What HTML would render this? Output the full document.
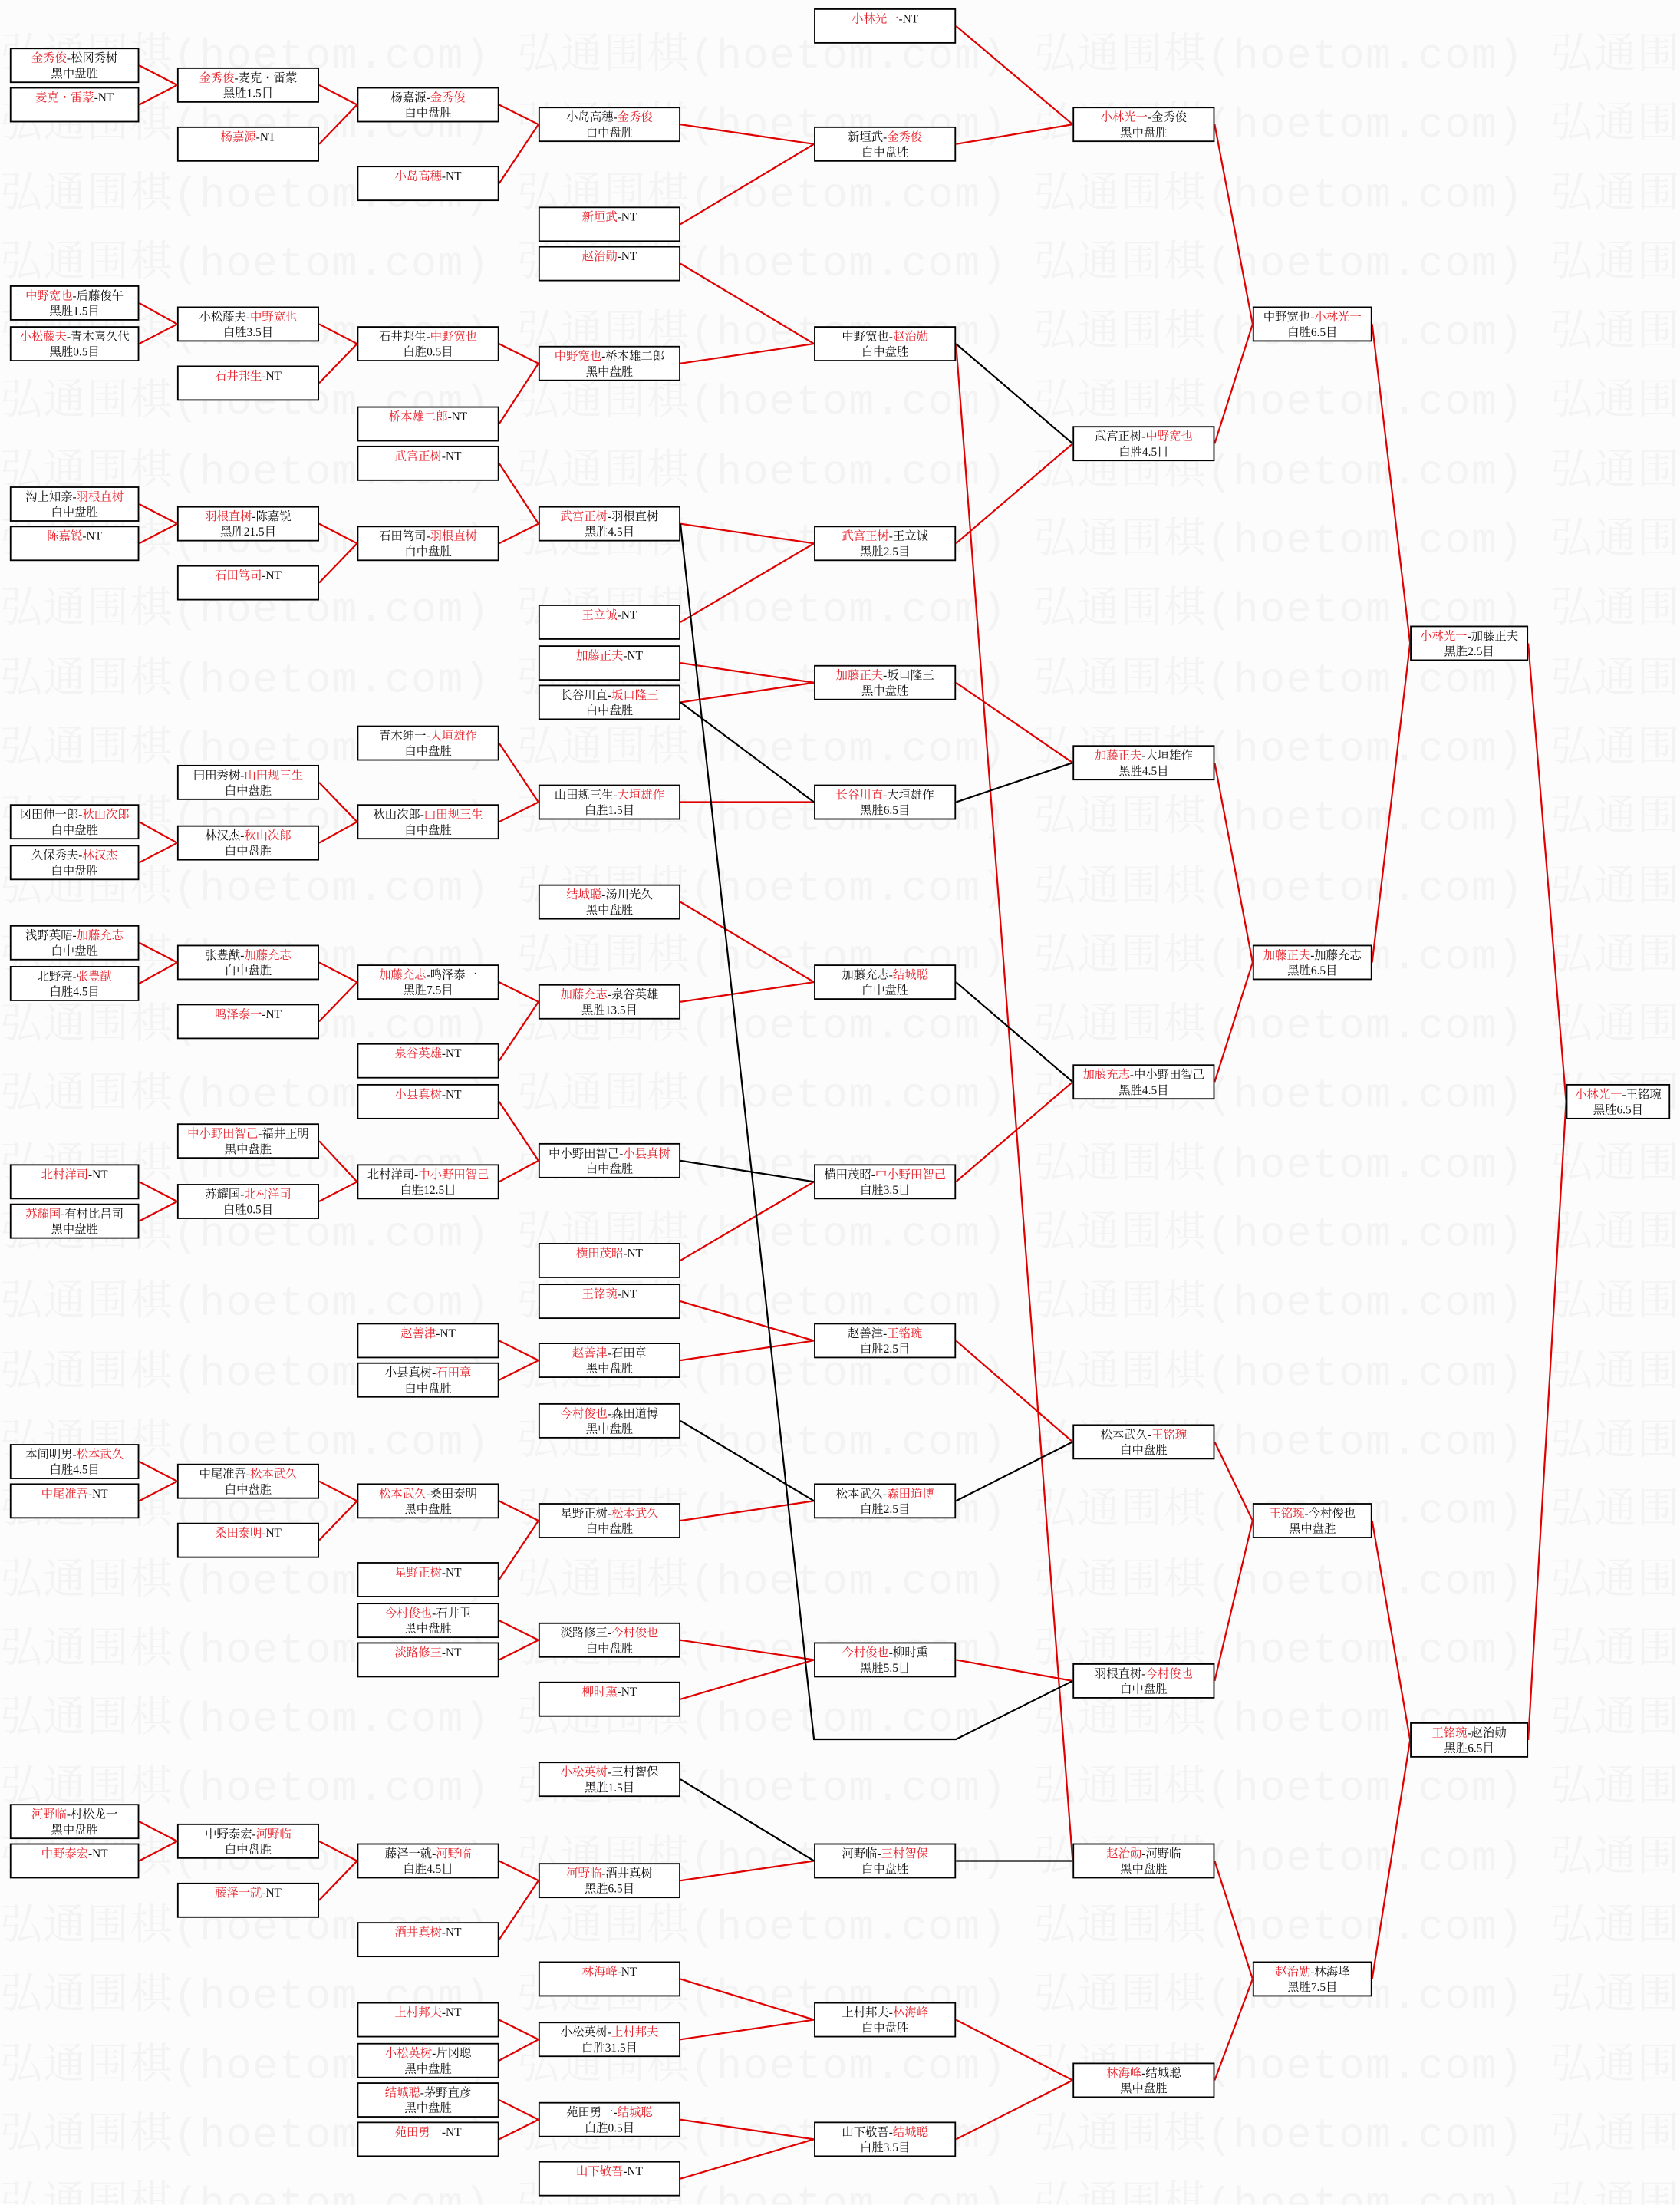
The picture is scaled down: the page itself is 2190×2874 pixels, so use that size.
<!DOCTYPE html>
<html><head><meta charset="utf-8"><style>
html,body{margin:0;padding:0;background:#fff;}
body{width:2190px;height:2873px;overflow:hidden;position:relative;}
#w{position:absolute;left:0;top:0;width:1195px;height:1568px;transform:scale(1.83264);transform-origin:0 0;overflow:hidden;background:#fcfcfc;}
#wm{position:absolute;left:0;top:17px;width:1195px;overflow:hidden;white-space:pre;font-family:"Liberation Mono","Noto Serif CJK SC",monospace;font-size:30px;letter-spacing:0.8px;line-height:49.3px;color:#f3f3f3;}
svg{position:absolute;left:0;top:0;}
.b{position:absolute;box-sizing:border-box;height:25px;border:1.5px solid #000;background:#fff;text-align:center;font-family:"Liberation Serif","Noto Serif CJK SC",serif;font-size:8.4px;line-height:11px;padding-top:1px;white-space:nowrap;color:#111;}
.b i{font-style:normal;color:#e8202a;}
.c1{left:7px;width:92px}.c2{left:126px;width:101px}.c3{left:254px;width:101px}.c4{left:383px;width:101px}
.c5{left:579px;width:101px}.c6{left:763px;width:101px}.c7{left:891px;width:85px}.c8{left:1003px;width:84px}.c9{left:1114px;width:74px}
</style></head><body><div id="w">
<div id="wm">弘通围棋(hoetom.com) 弘通围棋(hoetom.com) 弘通围棋(hoetom.com) 弘通围棋(hoetom.com)
弘通围棋(hoetom.com) 弘通围棋(hoetom.com) 弘通围棋(hoetom.com) 弘通围棋(hoetom.com)
弘通围棋(hoetom.com) 弘通围棋(hoetom.com) 弘通围棋(hoetom.com) 弘通围棋(hoetom.com)
弘通围棋(hoetom.com) 弘通围棋(hoetom.com) 弘通围棋(hoetom.com) 弘通围棋(hoetom.com)
弘通围棋(hoetom.com) 弘通围棋(hoetom.com) 弘通围棋(hoetom.com) 弘通围棋(hoetom.com)
弘通围棋(hoetom.com) 弘通围棋(hoetom.com) 弘通围棋(hoetom.com) 弘通围棋(hoetom.com)
弘通围棋(hoetom.com) 弘通围棋(hoetom.com) 弘通围棋(hoetom.com) 弘通围棋(hoetom.com)
弘通围棋(hoetom.com) 弘通围棋(hoetom.com) 弘通围棋(hoetom.com) 弘通围棋(hoetom.com)
弘通围棋(hoetom.com) 弘通围棋(hoetom.com) 弘通围棋(hoetom.com) 弘通围棋(hoetom.com)
弘通围棋(hoetom.com) 弘通围棋(hoetom.com) 弘通围棋(hoetom.com) 弘通围棋(hoetom.com)
弘通围棋(hoetom.com) 弘通围棋(hoetom.com) 弘通围棋(hoetom.com) 弘通围棋(hoetom.com)
弘通围棋(hoetom.com) 弘通围棋(hoetom.com) 弘通围棋(hoetom.com) 弘通围棋(hoetom.com)
弘通围棋(hoetom.com) 弘通围棋(hoetom.com) 弘通围棋(hoetom.com) 弘通围棋(hoetom.com)
弘通围棋(hoetom.com) 弘通围棋(hoetom.com) 弘通围棋(hoetom.com) 弘通围棋(hoetom.com)
弘通围棋(hoetom.com) 弘通围棋(hoetom.com) 弘通围棋(hoetom.com) 弘通围棋(hoetom.com)
弘通围棋(hoetom.com) 弘通围棋(hoetom.com) 弘通围棋(hoetom.com) 弘通围棋(hoetom.com)
弘通围棋(hoetom.com) 弘通围棋(hoetom.com) 弘通围棋(hoetom.com) 弘通围棋(hoetom.com)
弘通围棋(hoetom.com) 弘通围棋(hoetom.com) 弘通围棋(hoetom.com) 弘通围棋(hoetom.com)
弘通围棋(hoetom.com) 弘通围棋(hoetom.com) 弘通围棋(hoetom.com) 弘通围棋(hoetom.com)
弘通围棋(hoetom.com) 弘通围棋(hoetom.com) 弘通围棋(hoetom.com) 弘通围棋(hoetom.com)
弘通围棋(hoetom.com) 弘通围棋(hoetom.com) 弘通围棋(hoetom.com) 弘通围棋(hoetom.com)
弘通围棋(hoetom.com) 弘通围棋(hoetom.com) 弘通围棋(hoetom.com) 弘通围棋(hoetom.com)
弘通围棋(hoetom.com) 弘通围棋(hoetom.com) 弘通围棋(hoetom.com) 弘通围棋(hoetom.com)
弘通围棋(hoetom.com) 弘通围棋(hoetom.com) 弘通围棋(hoetom.com) 弘通围棋(hoetom.com)
弘通围棋(hoetom.com) 弘通围棋(hoetom.com) 弘通围棋(hoetom.com) 弘通围棋(hoetom.com)
弘通围棋(hoetom.com) 弘通围棋(hoetom.com) 弘通围棋(hoetom.com) 弘通围棋(hoetom.com)
弘通围棋(hoetom.com) 弘通围棋(hoetom.com) 弘通围棋(hoetom.com) 弘通围棋(hoetom.com)
弘通围棋(hoetom.com) 弘通围棋(hoetom.com) 弘通围棋(hoetom.com) 弘通围棋(hoetom.com)
弘通围棋(hoetom.com) 弘通围棋(hoetom.com) 弘通围棋(hoetom.com) 弘通围棋(hoetom.com)
弘通围棋(hoetom.com) 弘通围棋(hoetom.com) 弘通围棋(hoetom.com) 弘通围棋(hoetom.com)
弘通围棋(hoetom.com) 弘通围棋(hoetom.com) 弘通围棋(hoetom.com) 弘通围棋(hoetom.com)
弘通围棋(hoetom.com) 弘通围棋(hoetom.com) 弘通围棋(hoetom.com) 弘通围棋(hoetom.com)</div>
<svg width="1195" height="1568" viewBox="0 0 1195 1568" fill="none" stroke-width="1.2">
<g stroke="#e00000">
<path d="M99 46.5L126 60.5M99 74.5L126 60.5M99 215.5L126 230.5M99 244.5L126 230.5M99 358.5L126 372.5M99 386.5L126 372.5M99 584.5L126 599.5M99 613.5L126 599.5M99 670.5L126 684.5M99 699.5L126 684.5M99 840.5L126 854.5M99 868.5L126 854.5M99 1039.5L126 1053.5M99 1067.5L126 1053.5M99 1295.5L126 1309.5M99 1323.5L126 1309.5"/>
<path d="M227 60.5L254 74.5M227 102.5L254 74.5M227 230.5L254 244.5M227 272.5L254 244.5M227 372.5L254 386.5M227 414.5L254 386.5M227 556.5L254 584.5M227 599.5L254 584.5M227 684.5L254 698.5M227 726.5L254 698.5M227 811.5L254 840.5M227 854.5L254 840.5M227 1053.5L254 1067.5M227 1095.5L254 1067.5M227 1309.5L254 1323.5M227 1351.5L254 1323.5"/>
<path d="M355 74.5L383 88.5M355 130.5L383 88.5M355 244.5L383 258.5M355 301.5L383 258.5M355 329.5L383 372.5M355 386.5L383 372.5M355 528.5L383 570.5M355 584.5L383 570.5M355 698.5L383 712.5M355 754.5L383 712.5M355 783.5L383 825.5M355 840.5L383 825.5M355 953.5L383 967.5M355 981.5L383 967.5M355 1067.5L383 1081.5M355 1123.5L383 1081.5M355 1152.5L383 1166.5M355 1180.5L383 1166.5M355 1323.5L383 1337.5M355 1379.5L383 1337.5M355 1436.5L383 1450.5M355 1465.5L383 1450.5M355 1493.5L383 1507.5M355 1521.5L383 1507.5"/>
<path d="M484 88.5L579 102.5M484 159.5L579 102.5M484 187.5L579 244.5M484 258.5L579 244.5M484 372.5L579 386.5M484 442.5L579 386.5M484 471.5L579 485.5M484 499.5L579 485.5M484 570.5L579 570.5M484 641.5L579 698.5M484 712.5L579 698.5M484 896.5L579 840.5M484 925.5L579 953.5M484 967.5L579 953.5M484 1081.5L579 1067.5M484 1166.5L579 1180.5M484 1208.5L579 1180.5M484 1337.5L579 1323.5M484 1407.5L579 1436.5M484 1450.5L579 1436.5M484 1507.5L579 1521.5M484 1549.5L579 1521.5"/>
<path d="M680 18.5L763 88.5M680 102.5L763 88.5M680 386.5L763 315.5M680 485.5L763 542.5M680 840.5L763 769.5M680 953.5L763 1025.5M680 1180.5L763 1195.5M680 244.5L763 1323.5M680 1436.5L763 1479.5M680 1521.5L763 1479.5"/>
<path d="M864 88.5L891 230.5M864 315.5L891 230.5M864 542.5L891 684.5M864 769.5L891 684.5M864 1025.5L891 1081.5M864 1195.5L891 1081.5M864 1323.5L891 1407.5M864 1479.5L891 1407.5M976 230.5L1003 457.5M976 684.5L1003 457.5M976 1081.5L1003 1237.5M976 1407.5L1003 1237.5M1087 457.5L1114 783.5M1087 1237.5L1114 783.5"/>
</g>
<g stroke="#000">
<path d="M484 499.5L579 570.5M484 825.5L579 840.5M484 1010.5L579 1067.5M484 1265.5L579 1323.5M484 372.5L579 1237L680 1237L763 1195.5M680 244.5L763 315.5M680 570.5L763 542.5M680 698.5L763 769.5M680 1067.5L763 1025.5M680 1323.5L763 1323.5"/>
</g>
</svg>
<div class="b c1" style="top:34px"><i>金秀俊</i>-松冈秀树<br>黑中盘胜</div>
<div class="b c1" style="top:62px"><i>麦克・雷蒙</i>-NT</div>
<div class="b c1" style="top:203px"><i>中野宽也</i>-后藤俊午<br>黑胜1.5目</div>
<div class="b c1" style="top:232px"><i>小松藤夫</i>-青木喜久代<br>黑胜0.5目</div>
<div class="b c1" style="top:346px">沟上知亲-<i>羽根直树</i><br>白中盘胜</div>
<div class="b c1" style="top:374px"><i>陈嘉锐</i>-NT</div>
<div class="b c1" style="top:572px">冈田伸一郎-<i>秋山次郎</i><br>白中盘胜</div>
<div class="b c1" style="top:601px">久保秀夫-<i>林汉杰</i><br>白中盘胜</div>
<div class="b c1" style="top:658px">浅野英昭-<i>加藤充志</i><br>白中盘胜</div>
<div class="b c1" style="top:687px">北野亮-<i>张豊猷</i><br>白胜4.5目</div>
<div class="b c1" style="top:828px"><i>北村洋司</i>-NT</div>
<div class="b c1" style="top:856px"><i>苏耀国</i>-有村比吕司<br>黑中盘胜</div>
<div class="b c1" style="top:1027px">本间明男-<i>松本武久</i><br>白胜4.5目</div>
<div class="b c1" style="top:1055px"><i>中尾准吾</i>-NT</div>
<div class="b c1" style="top:1283px"><i>河野临</i>-村松龙一<br>黑中盘胜</div>
<div class="b c1" style="top:1311px"><i>中野泰宏</i>-NT</div>
<div class="b c2" style="top:48px"><i>金秀俊</i>-麦克・雷蒙<br>黑胜1.5目</div>
<div class="b c2" style="top:90px"><i>杨嘉源</i>-NT</div>
<div class="b c2" style="top:218px">小松藤夫-<i>中野宽也</i><br>白胜3.5目</div>
<div class="b c2" style="top:260px"><i>石井邦生</i>-NT</div>
<div class="b c2" style="top:360px"><i>羽根直树</i>-陈嘉锐<br>黑胜21.5目</div>
<div class="b c2" style="top:402px"><i>石田笃司</i>-NT</div>
<div class="b c2" style="top:544px">円田秀树-<i>山田规三生</i><br>白中盘胜</div>
<div class="b c2" style="top:587px">林汉杰-<i>秋山次郎</i><br>白中盘胜</div>
<div class="b c2" style="top:672px">张豊猷-<i>加藤充志</i><br>白中盘胜</div>
<div class="b c2" style="top:714px"><i>鸣泽泰一</i>-NT</div>
<div class="b c2" style="top:799px"><i>中小野田智己</i>-福井正明<br>黑中盘胜</div>
<div class="b c2" style="top:842px">苏耀国-<i>北村洋司</i><br>白胜0.5目</div>
<div class="b c2" style="top:1041px">中尾准吾-<i>松本武久</i><br>白中盘胜</div>
<div class="b c2" style="top:1083px"><i>桑田泰明</i>-NT</div>
<div class="b c2" style="top:1297px">中野泰宏-<i>河野临</i><br>白中盘胜</div>
<div class="b c2" style="top:1339px"><i>藤泽一就</i>-NT</div>
<div class="b c3" style="top:62px">杨嘉源-<i>金秀俊</i><br>白中盘胜</div>
<div class="b c3" style="top:118px"><i>小岛高穗</i>-NT</div>
<div class="b c3" style="top:232px">石井邦生-<i>中野宽也</i><br>白胜0.5目</div>
<div class="b c3" style="top:289px"><i>桥本雄二郎</i>-NT</div>
<div class="b c3" style="top:317px"><i>武宫正树</i>-NT</div>
<div class="b c3" style="top:374px">石田笃司-<i>羽根直树</i><br>白中盘胜</div>
<div class="b c3" style="top:516px">青木绅一-<i>大垣雄作</i><br>白中盘胜</div>
<div class="b c3" style="top:572px">秋山次郎-<i>山田规三生</i><br>白中盘胜</div>
<div class="b c3" style="top:686px"><i>加藤充志</i>-鸣泽泰一<br>黑胜7.5目</div>
<div class="b c3" style="top:742px"><i>泉谷英雄</i>-NT</div>
<div class="b c3" style="top:771px"><i>小县真树</i>-NT</div>
<div class="b c3" style="top:828px">北村洋司-<i>中小野田智己</i><br>白胜12.5目</div>
<div class="b c3" style="top:941px"><i>赵善津</i>-NT</div>
<div class="b c3" style="top:969px">小县真树-<i>石田章</i><br>白中盘胜</div>
<div class="b c3" style="top:1055px"><i>松本武久</i>-桑田泰明<br>黑中盘胜</div>
<div class="b c3" style="top:1111px"><i>星野正树</i>-NT</div>
<div class="b c3" style="top:1140px"><i>今村俊也</i>-石井卫<br>黑中盘胜</div>
<div class="b c3" style="top:1168px"><i>淡路修三</i>-NT</div>
<div class="b c3" style="top:1311px">藤泽一就-<i>河野临</i><br>白胜4.5目</div>
<div class="b c3" style="top:1367px"><i>酒井真树</i>-NT</div>
<div class="b c3" style="top:1424px"><i>上村邦夫</i>-NT</div>
<div class="b c3" style="top:1453px"><i>小松英树</i>-片冈聪<br>黑中盘胜</div>
<div class="b c3" style="top:1481px"><i>结城聪</i>-茅野直彦<br>黑中盘胜</div>
<div class="b c3" style="top:1509px"><i>苑田勇一</i>-NT</div>
<div class="b c4" style="top:76px">小岛高穗-<i>金秀俊</i><br>白中盘胜</div>
<div class="b c4" style="top:147px"><i>新垣武</i>-NT</div>
<div class="b c4" style="top:175px;border-width:1.8px"><i>赵治勋</i>-NT</div>
<div class="b c4" style="top:246px;border-width:1.8px"><i>中野宽也</i>-桥本雄二郎<br>黑中盘胜</div>
<div class="b c4" style="top:360px;border-width:1.8px"><i>武宫正树</i>-羽根直树<br>黑胜4.5目</div>
<div class="b c4" style="top:430px"><i>王立诚</i>-NT</div>
<div class="b c4" style="top:459px"><i>加藤正夫</i>-NT</div>
<div class="b c4" style="top:487px;border-width:1.8px">长谷川直-<i>坂口隆三</i><br>白中盘胜</div>
<div class="b c4" style="top:558px">山田规三生-<i>大垣雄作</i><br>白胜1.5目</div>
<div class="b c4" style="top:629px"><i>结城聪</i>-汤川光久<br>黑中盘胜</div>
<div class="b c4" style="top:700px"><i>加藤充志</i>-泉谷英雄<br>黑胜13.5目</div>
<div class="b c4" style="top:813px">中小野田智己-<i>小县真树</i><br>白中盘胜</div>
<div class="b c4" style="top:884px"><i>横田茂昭</i>-NT</div>
<div class="b c4" style="top:913px"><i>王铭琬</i>-NT</div>
<div class="b c4" style="top:955px"><i>赵善津</i>-石田章<br>黑中盘胜</div>
<div class="b c4" style="top:998px"><i>今村俊也</i>-森田道博<br>黑中盘胜</div>
<div class="b c4" style="top:1069px">星野正树-<i>松本武久</i><br>白中盘胜</div>
<div class="b c4" style="top:1154px">淡路修三-<i>今村俊也</i><br>白中盘胜</div>
<div class="b c4" style="top:1196px"><i>柳时熏</i>-NT</div>
<div class="b c4" style="top:1253px"><i>小松英树</i>-三村智保<br>黑胜1.5目</div>
<div class="b c4" style="top:1325px"><i>河野临</i>-酒井真树<br>黑胜6.5目</div>
<div class="b c4" style="top:1395px"><i>林海峰</i>-NT</div>
<div class="b c4" style="top:1438px">小松英树-<i>上村邦夫</i><br>白胜31.5目</div>
<div class="b c4" style="top:1495px">苑田勇一-<i>结城聪</i><br>白胜0.5目</div>
<div class="b c4" style="top:1537px"><i>山下敬吾</i>-NT</div>
<div class="b c5" style="top:6px"><i>小林光一</i>-NT</div>
<div class="b c5" style="top:90px">新垣武-<i>金秀俊</i><br>白中盘胜</div>
<div class="b c5" style="top:232px;border-width:1.8px">中野宽也-<i>赵治勋</i><br>白中盘胜</div>
<div class="b c5" style="top:374px"><i>武宫正树</i>-王立诚<br>黑胜2.5目</div>
<div class="b c5" style="top:473px"><i>加藤正夫</i>-坂口隆三<br>黑中盘胜</div>
<div class="b c5" style="top:558px"><i>长谷川直</i>-大垣雄作<br>黑胜6.5目</div>
<div class="b c5" style="top:686px">加藤充志-<i>结城聪</i><br>白中盘胜</div>
<div class="b c5" style="top:828px">横田茂昭-<i>中小野田智己</i><br>白胜3.5目</div>
<div class="b c5" style="top:941px">赵善津-<i>王铭琬</i><br>白胜2.5目</div>
<div class="b c5" style="top:1055px">松本武久-<i>森田道博</i><br>白胜2.5目</div>
<div class="b c5" style="top:1168px"><i>今村俊也</i>-柳时熏<br>黑胜5.5目</div>
<div class="b c5" style="top:1311px">河野临-<i>三村智保</i><br>白中盘胜</div>
<div class="b c5" style="top:1424px">上村邦夫-<i>林海峰</i><br>白中盘胜</div>
<div class="b c5" style="top:1509px">山下敬吾-<i>结城聪</i><br>白胜3.5目</div>
<div class="b c6" style="top:76px"><i>小林光一</i>-金秀俊<br>黑中盘胜</div>
<div class="b c6" style="top:303px">武宫正树-<i>中野宽也</i><br>白胜4.5目</div>
<div class="b c6" style="top:530px"><i>加藤正夫</i>-大垣雄作<br>黑胜4.5目</div>
<div class="b c6" style="top:757px"><i>加藤充志</i>-中小野田智己<br>黑胜4.5目</div>
<div class="b c6" style="top:1013px">松本武久-<i>王铭琬</i><br>白中盘胜</div>
<div class="b c6" style="top:1183px">羽根直树-<i>今村俊也</i><br>白中盘胜</div>
<div class="b c6" style="top:1311px"><i>赵治勋</i>-河野临<br>黑中盘胜</div>
<div class="b c6" style="top:1467px"><i>林海峰</i>-结城聪<br>黑中盘胜</div>
<div class="b c7" style="top:218px">中野宽也-<i>小林光一</i><br>白胜6.5目</div>
<div class="b c7" style="top:672px"><i>加藤正夫</i>-加藤充志<br>黑胜6.5目</div>
<div class="b c7" style="top:1069px"><i>王铭琬</i>-今村俊也<br>黑中盘胜</div>
<div class="b c7" style="top:1395px"><i>赵治勋</i>-林海峰<br>黑胜7.5目</div>
<div class="b c8" style="top:445px"><i>小林光一</i>-加藤正夫<br>黑胜2.5目</div>
<div class="b c8" style="top:1225px"><i>王铭琬</i>-赵治勋<br>黑胜6.5目</div>
<div class="b c9" style="top:771px"><i>小林光一</i>-王铭琬<br>黑胜6.5目</div>
</div></body></html>
